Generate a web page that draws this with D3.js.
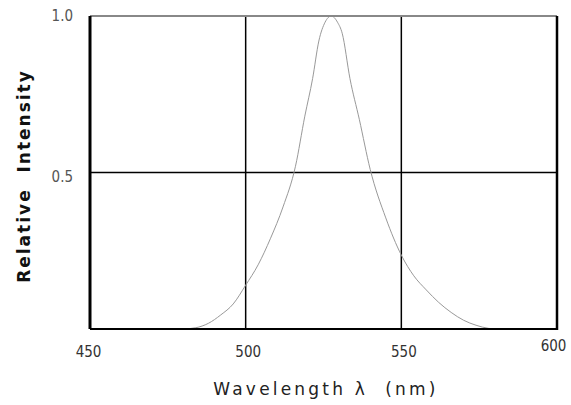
<!DOCTYPE html>
<html>
<head>
<meta charset="utf-8">
<script src="https://cdn.jsdelivr.net/npm/d3@7"></script>
<style>
  html, body { margin: 0; padding: 0; background: #fff; }
  svg { display: block; }
</style>
</head>
<body>
<svg id="chart" width="571" height="405"></svg>
<script>
// spectrum (nm, relative intensity)
const wavelength = [480, 484, 488, 492, 496, 500, 504, 508, 512, 516, 519, 521.5, 523.5, 525.5, 527.5,
                    529.5, 531, 533.5, 536.5, 540, 545, 550, 554, 558, 562, 566, 570, 574, 578, 580];
const intensity  = [0, 0.004, 0.018, 0.045, 0.08, 0.14, 0.205, 0.29, 0.39, 0.52, 0.68, 0.8, 0.92, 0.98, 1.0,
                    0.98, 0.945, 0.8, 0.67, 0.51, 0.355, 0.236, 0.17, 0.125, 0.085, 0.053, 0.028, 0.012, 0.002, 0];
const xTicks = [450, 500, 550, 600];
const yTicks = [0.5, 1.0];
const xGrid  = [500, 550];
const yGrid  = [0.5];

let svg = d3.select("#chart");

let x = d3.scaleLinear().domain([450, 600]).range([90, 557]),
    y = d3.scaleLinear().domain([0, 1]).range([329, 16]);

let g = svg.append("g");

/* grid */
g.selectAll(".vgrid").data(xGrid).enter().append("line")
    .attr("x1", d => x(d)).attr("x2", d => x(d))
    .attr("y1", y(1)).attr("y2", y(0))
    .attr("stroke", "#000").attr("stroke-width", 1.5);
g.selectAll(".hgrid").data(yGrid).enter().append("line")
    .attr("x1", x(450)).attr("x2", x(600))
    .attr("y1", d => y(d)).attr("y2", d => y(d))
    .attr("stroke", "#000").attr("stroke-width", 1.5);

/* curve */
let pts = wavelength.map((w, i) => [w, intensity[i]]);
g.append("path")
    .datum(pts)
    .attr("fill", "none")
    .attr("stroke", "#999")
    .attr("stroke-width", 1)
    .attr("d", d3.line().x(d => x(d[0])).y(d => y(d[1])).curve(d3.curveMonotoneX));

/* frame */
g.append("line").attr("x1", x(450)).attr("x2", x(600)).attr("y1", y(1)).attr("y2", y(1))
    .attr("stroke", "#888").attr("stroke-width", 2);
g.append("line").attr("x1", x(450)).attr("x2", x(600)).attr("y1", y(0)).attr("y2", y(0))
    .attr("stroke", "#000").attr("stroke-width", 2);
g.append("line").attr("x1", x(450)).attr("x2", x(450)).attr("y1", y(1)).attr("y2", y(0))
    .attr("stroke", "#000").attr("stroke-width", 3);
g.append("line").attr("x1", x(600)).attr("x2", x(600)).attr("y1", y(1)).attr("y2", y(0) + 1)
    .attr("stroke", "#000").attr("stroke-width", 2.5);

/* x tick labels */
g.append("g")
    .attr("transform", `translate(0, ${y(0)})`)
    .call(d3.axisBottom(x).tickValues(xTicks).tickSize(0).tickPadding(0))
    .call(a => a.select(".domain").remove())
    .call(a => a.selectAll("text")
        .attr("font-family", "DejaVu Sans Condensed, DejaVu Sans")
        .attr("font-size", 15)
        .attr("fill", "#333")
        .attr("y", (d) => d === 600 ? 11 : 17)
        .attr("dy", "0.71em")
        .attr("dx", (d) => d === 450 ? -2 : d === 600 ? -4 : 2));

/* y tick labels */
g.append("g")
    .attr("transform", `translate(${x(450)}, 0)`)
    .call(d3.axisLeft(y).tickValues(yTicks).tickSize(0).tickPadding(17).tickFormat(d3.format(".1f")))
    .call(a => a.select(".domain").remove())
    .call(a => a.selectAll("text")
        .attr("font-family", "DejaVu Sans Condensed, DejaVu Sans")
        .attr("font-size", 15)
        .attr("fill", "#555")
        .attr("dy", (d) => d === 1 ? "0.32em" : "0.62em"));

/* axis titles */
svg.append("text")
    .attr("x", 326).attr("y", 395)
    .attr("text-anchor", "middle")
    .attr("font-family", "DejaVu Sans")
    .attr("font-size", 17)
    .attr("letter-spacing", 3.2)
    .attr("fill", "#222")
    .style("white-space", "pre")
    .text("Wavelength λ  (nm)");

svg.append("text")
    .attr("transform", "translate(30,176) rotate(-90)")
    .attr("text-anchor", "middle")
    .attr("font-family", "DejaVu Sans")
    .attr("font-size", 17)
    .attr("font-weight", "bold")
    .attr("letter-spacing", 2)
    .attr("fill", "#111")
    .style("white-space", "pre")
    .text("Relative  Intensity");
</script>
</body>
</html>
